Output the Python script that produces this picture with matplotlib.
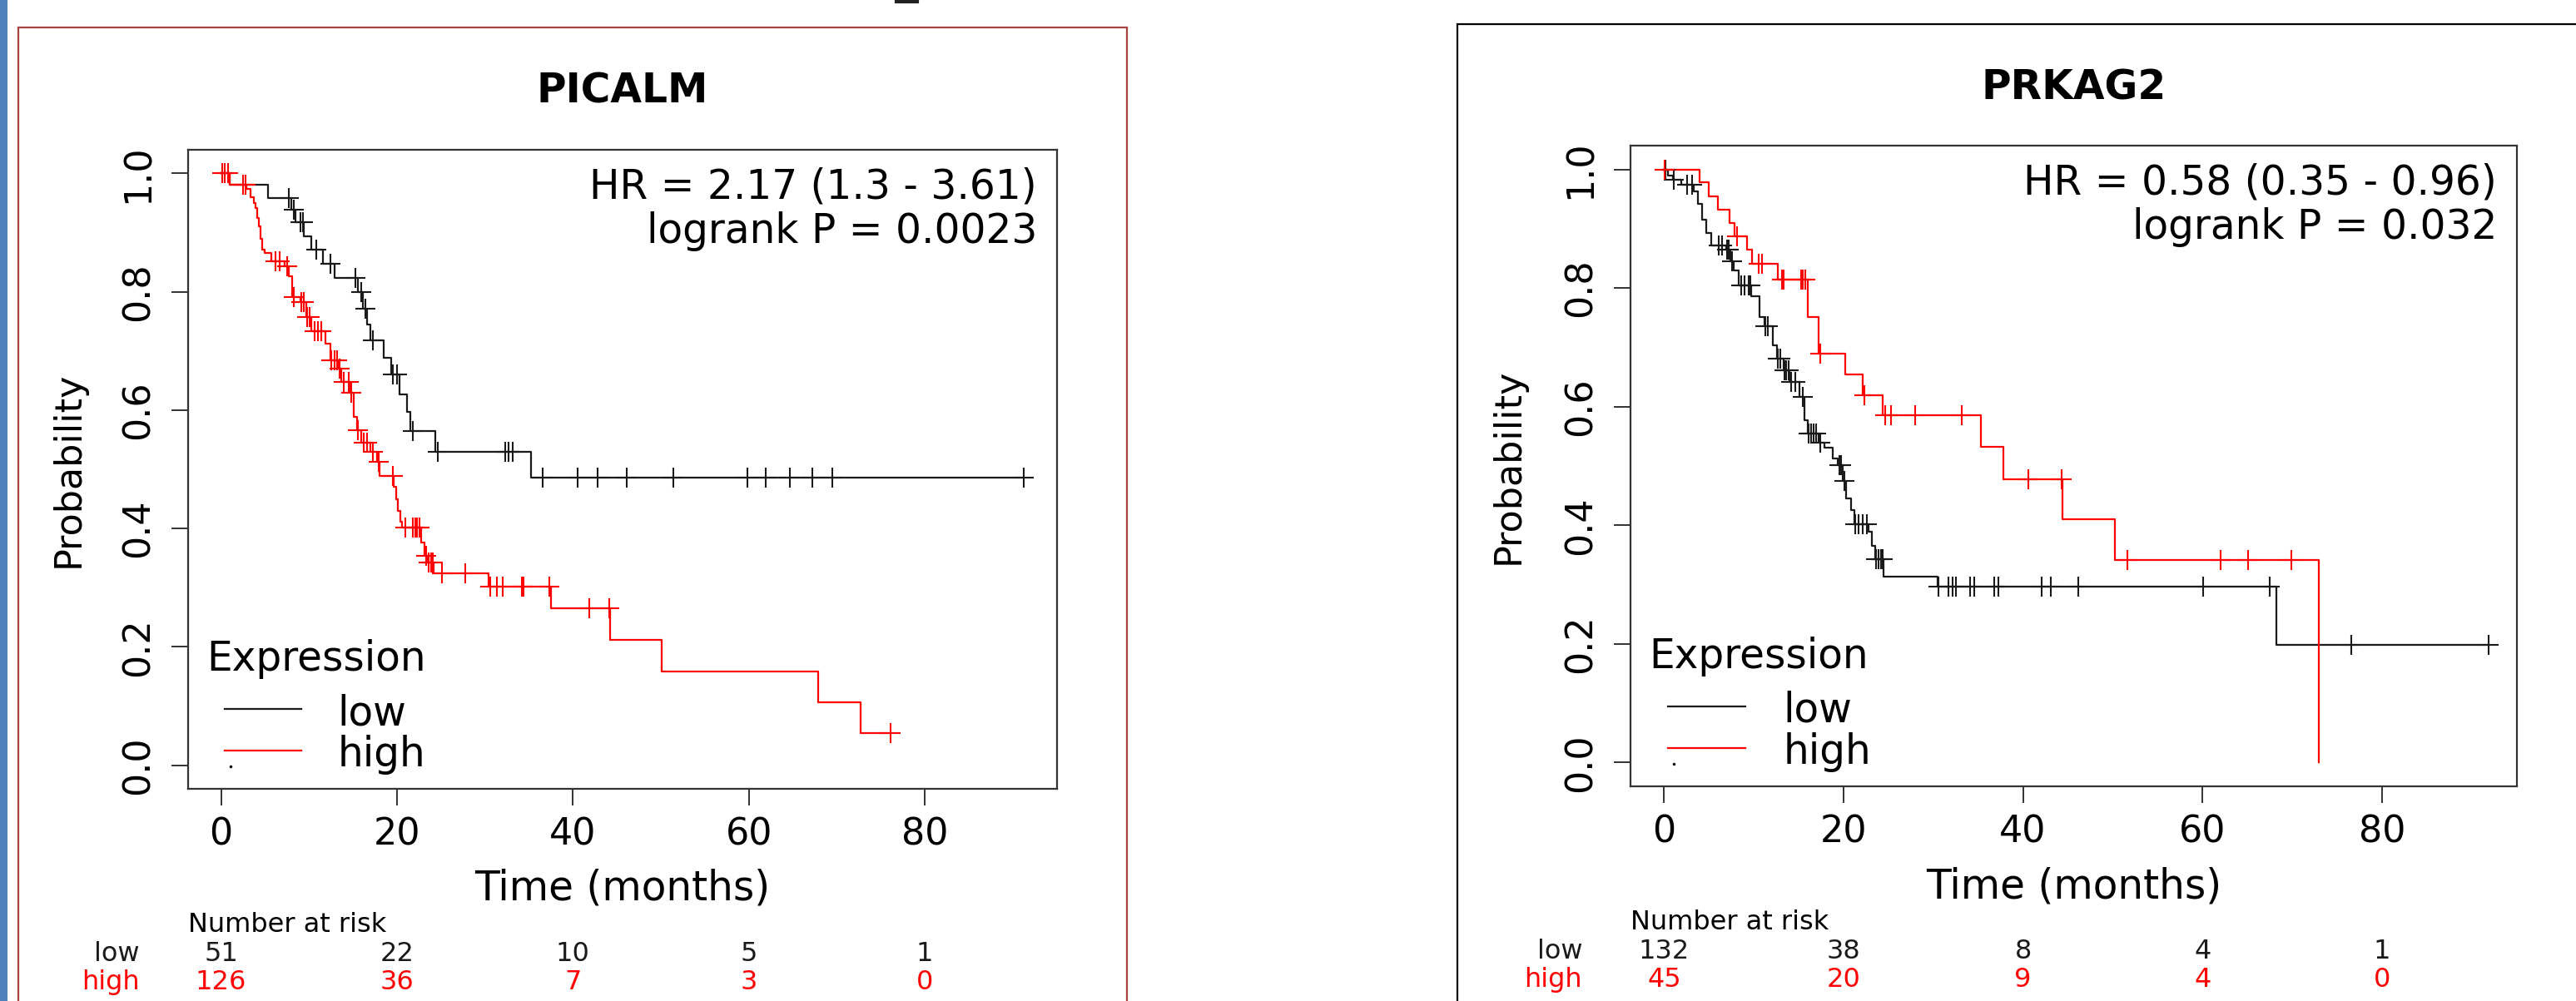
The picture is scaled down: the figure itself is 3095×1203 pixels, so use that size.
import numpy as np
import matplotlib
matplotlib.use("Agg")
import matplotlib.pyplot as plt
from matplotlib.patches import Rectangle
from matplotlib.lines import Line2D
from matplotlib.transforms import blended_transform_factory

W, H, DPI = 3095, 1203, 100

# ---------------- data ----------------
genes = ["PICALM", "PRKAG2"]
hr_texts = ["HR = 2.17 (1.3 - 3.61)", "HR = 0.58 (0.35 - 0.96)"]
p_texts = ["logrank P = 0.0023", "logrank P = 0.032"]
groups = ["low", "high"]
risk_times = [0, 20, 40, 60, 80]
picalm_risk_low = [51, 22, 10, 5, 1]
picalm_risk_high = [126, 36, 7, 3, 0]
prkag2_risk_low = [132, 38, 8, 4, 1]
prkag2_risk_high = [45, 20, 9, 4, 0]

# PICALM - low expression
picalm_low_t = [0, 1.0, 5.3, 8.0, 8.5, 9.4, 10.3, 11.6, 12.9, 15.6, 16.1, 16.6, 17.0,
                18.5, 19.3, 20.3, 21.1, 21.5, 24.4, 35.2]
picalm_low_s = [1.0, 0.981, 0.959, 0.939, 0.918, 0.894, 0.871, 0.847, 0.824, 0.800, 0.772,
                0.745, 0.718, 0.688, 0.660, 0.627, 0.597, 0.564, 0.529, 0.486]
picalm_low_cens = [7.7, 8.3, 9.0, 9.3, 10.8, 12.4, 15.3, 15.9, 16.4, 17.3, 19.5, 20.0,
                   21.8, 24.6, 32.3, 32.7, 33.2, 36.6, 40.5, 42.8, 46.1, 51.4, 59.8, 61.9,
                   64.7, 67.2, 69.5, 91.3]

# PICALM - high expression
picalm_high_t = [0, 1.0, 2.9, 3.4, 3.7, 3.9, 4.1, 4.3, 4.5, 4.65, 5.0, 5.7, 7.2, 7.7, 8.1,
                 9.0, 9.7, 10.3, 11.9, 12.4, 13.3, 13.7, 14.6, 15.1, 15.5, 15.9, 17.0, 17.7,
                 18.0, 19.6, 19.9, 20.1, 20.4, 20.6, 22.8, 23.1, 23.5, 24.2, 30.4, 37.5,
                 44.2, 50.1, 67.9, 72.7]
picalm_high_s = [1.0, 0.981, 0.974, 0.960, 0.950, 0.941, 0.925, 0.911, 0.890, 0.871, 0.866,
                 0.852, 0.843, 0.826, 0.791, 0.782, 0.758, 0.733, 0.712, 0.684, 0.670, 0.648,
                 0.630, 0.588, 0.566, 0.545, 0.529, 0.513, 0.489, 0.470, 0.450, 0.430, 0.412,
                 0.401, 0.376, 0.354, 0.343, 0.324, 0.302, 0.265, 0.212, 0.158, 0.106, 0.054]
picalm_high_cens = [0.1, 0.4, 0.8, 2.5, 2.8, 6.2, 6.7, 7.5, 8.3, 9.1, 9.4, 9.8, 10.1, 10.6,
                    11.0, 11.4, 12.5, 12.9, 13.2, 13.5, 14.0, 14.5, 14.8, 15.6, 16.2, 16.6,
                    17.3, 17.9, 19.5, 21.0, 21.8, 22.1, 22.3, 22.6, 23.3, 23.6, 23.9, 24.1,
                    25.1, 27.8, 30.6, 31.4, 32.0, 34.2, 34.4, 37.3, 41.9, 44.1, 76.1]

# PRKAG2 - low expression
prkag2_low_t = [0, 0.4, 1.0, 1.9, 3.3, 3.8, 4.2, 4.7, 5.3, 6.9, 7.4, 7.8, 8.3, 9.7, 10.6,
                11.2, 12.1, 12.6, 13.3, 14.0, 15.1, 15.6, 16.0, 17.2, 17.9, 18.8, 19.4, 19.9,
                20.3, 20.8, 21.2, 22.8, 23.2, 23.5, 24.5, 30.5, 68.2]
prkag2_low_s = [1.0, 0.990, 0.982, 0.974, 0.963, 0.942, 0.915, 0.893, 0.872, 0.864, 0.845,
                0.829, 0.805, 0.786, 0.751, 0.735, 0.703, 0.681, 0.662, 0.641, 0.617, 0.577,
                0.555, 0.539, 0.531, 0.512, 0.501, 0.475, 0.445, 0.426, 0.402, 0.389, 0.365,
                0.343, 0.314, 0.297, 0.199]
prkag2_low_cens = [0.2, 1.1, 2.6, 3.1, 6.1, 6.5, 7.0, 7.2, 7.6, 8.6, 9.0, 9.4, 9.6, 11.3,
                   11.6, 12.7, 13.0, 13.4, 13.6, 13.9, 14.2, 14.6, 15.5, 16.1, 16.4, 16.7,
                   16.9, 17.4, 19.5, 19.7, 20.1, 21.3, 21.7, 22.1, 22.6, 23.6, 23.9, 24.2,
                   24.4, 30.6, 31.7, 32.2, 32.5, 34.1, 34.6, 36.8, 37.3, 42.1, 43.1, 46.2,
                   60.1, 67.5, 76.6, 91.9]

# PRKAG2 - high expression
prkag2_high_t = [0, 4.0, 5.0, 6.0, 7.3, 7.9, 9.2, 9.8, 12.7, 16.0, 17.2, 20.2, 22.1, 24.4,
                 35.3, 37.8, 44.4, 50.2, 73.0]
prkag2_high_s = [1.0, 0.978, 0.955, 0.932, 0.909, 0.887, 0.864, 0.841, 0.814, 0.751, 0.689,
                 0.654, 0.619, 0.585, 0.532, 0.477, 0.410, 0.342, 0.0]
prkag2_high_cens = [0.1, 8.1, 10.5, 10.9, 13.1, 13.3, 15.3, 15.5, 15.7, 17.4, 22.3, 24.6,
                    25.3, 28.0, 33.2, 40.6, 44.3, 51.6, 62.0, 65.1, 69.9]

panels = [
    dict(gene=genes[0], hr=hr_texts[0], p=p_texts[0],
         curves=[(picalm_low_t, picalm_low_s, picalm_low_cens),
                 (picalm_high_t, picalm_high_s, picalm_high_cens)],
         risk=[picalm_risk_low, picalm_risk_high],
         box=(226, 180, 1270, 948), risk_y=(1120, 1155, 1189)),
    dict(gene=genes[1], hr=hr_texts[1], p=p_texts[1],
         curves=[(prkag2_low_t, prkag2_low_s, prkag2_low_cens),
                 (prkag2_high_t, prkag2_high_s, prkag2_high_cens)],
         risk=[prkag2_risk_low, prkag2_risk_high],
         box=(1959, 175, 3024, 945), risk_y=(1117, 1152, 1186)),
]

colors = ["#1a1a1a", "#ff0000"]
plt.rcParams["font.family"] = ["DejaVu Sans"]

fig = plt.figure(figsize=(W / DPI, H / DPI), dpi=DPI)
fig.patch.set_facecolor("white")

# page decorations
fig.add_artist(Rectangle((0, 0), 8.5 / W, 1, transform=fig.transFigure,
                         facecolor="#4F81BD", edgecolor="none"))
fig.add_artist(Rectangle((22 / W, 1 - 1215 / H), (1354 - 22) / W, (1215 - 33) / H,
                         transform=fig.transFigure, fill=False,
                         edgecolor="#A8423F", linewidth=1.6))
fig.add_artist(Rectangle((1751 / W, 1 - 1215 / H), (3110 - 1751) / W, (1215 - 29) / H,
                         transform=fig.transFigure, fill=False,
                         edgecolor="black", linewidth=1.6))
fig.add_artist(Line2D([1077 / W, 1102 / W], [1 - 2 / H, 1 - 2 / H],
                      transform=fig.transFigure, color="#222222", linewidth=3))


def to_fig_y(ypx):
    return 1 - ypx / H


for pan in panels:
    x0, y0, x1, y1 = pan["box"]
    ax = fig.add_axes([x0 / W, 1 - y1 / H, (x1 - x0) / W, (y1 - y0) / H])
    aw, ah = x1 - x0, y1 - y0

    for (t, s, cens), col in zip(pan["curves"], colors):
        t = np.asarray(t, float)
        s = np.asarray(s, float)
        c = np.asarray(cens, float)
        tend = max(t[-1], c.max() if len(c) else t[-1])
        tt = np.append(t, tend)
        ss = np.append(s, s[-1])
        ax.step(tt, ss, where="post", color=col, linewidth=1.6, zorder=3)
        idx = np.searchsorted(t, c, side="right") - 1
        ax.plot(c, s[idx], linestyle="none", marker="+", markersize=17,
                markeredgewidth=1.5, color=col, zorder=4)

    ax.set_xlim(-3.74, 95.04)
    ax.set_ylim(-0.04, 1.04)
    ax.set_xticks(risk_times)
    ax.set_xticklabels([str(v) for v in risk_times])
    yt = [0.0, 0.2, 0.4, 0.6, 0.8, 1.0]
    ax.set_yticks(yt)
    ax.set_yticklabels([f"{v:.1f}" for v in yt])
    ax.tick_params(axis="x", length=14.4, width=1.4, color="#333333", pad=10,
                   labelsize=32)
    ax.tick_params(axis="y", length=14.4, width=1.4, color="#333333", pad=13,
                   labelsize=32, labelrotation=90)
    for lbl in ax.get_yticklabels():
        lbl.set_va("center")
    for sp in ax.spines.values():
        sp.set_color("#333333")
        sp.set_linewidth(1.6)

    # title and statistics
    ax.text(0.5, (y1 - (123 if pan is panels[0] else 120)) / ah, pan["gene"],
            transform=ax.transAxes, ha="center", va="baseline",
            fontsize=35, fontweight="bold")
    ax.text(1 - 24 / aw, 0.924, pan["hr"], transform=ax.transAxes,
            ha="right", va="baseline", fontsize=35)
    ax.text(1 - 24 / aw, 0.854, pan["p"], transform=ax.transAxes,
            ha="right", va="baseline", fontsize=35)

    # axis labels
    ax.text(0.5, -0.156, "Time (months)", transform=ax.transAxes,
            ha="center", va="center", fontsize=35)
    ax.text(-0.138, 0.5, "Probability", transform=ax.transAxes,
            ha="center", va="center", rotation=90, fontsize=32)

    # legend (manual, R style)
    ax.text(0.021, 0.185, "Expression", transform=ax.transAxes,
            ha="left", va="baseline", fontsize=35)
    for k, (g, col) in enumerate(zip(groups, colors)):
        yl = 0.125 - 0.065 * k
        ax.plot([0.042, 0.130], [yl, yl], transform=ax.transAxes, color=col,
                linewidth=1.6, clip_on=False)
        ax.text(0.172, yl - 0.025, g, transform=ax.transAxes,
                ha="left", va="baseline", fontsize=35)
    ax.plot([0.049], [0.035], transform=ax.transAxes, marker="o", markersize=1.5,
            color="black", linestyle="none")

    # number at risk table
    tr_ax = blended_transform_factory(ax.transAxes, fig.transFigure)
    tr_dat = blended_transform_factory(ax.transData, fig.transFigure)
    ry0, ry1, ry2 = pan["risk_y"]
    fig.text(0.0, to_fig_y(ry0), "Number at risk", transform=tr_ax,
             ha="left", va="baseline", fontsize=23)
    for k, (g, col, vals, ry) in enumerate(zip(groups, colors, pan["risk"], (ry1, ry2))):
        fig.text(-58 / aw, to_fig_y(ry), g, transform=tr_ax, ha="right",
                 va="baseline", fontsize=23, color=col)
        for tx, v in zip(risk_times, vals):
            fig.text(tx, to_fig_y(ry), str(v), transform=tr_dat, ha="center",
                     va="baseline", fontsize=23, color=col)

fig.savefig("out.png", dpi=DPI, facecolor="white")
